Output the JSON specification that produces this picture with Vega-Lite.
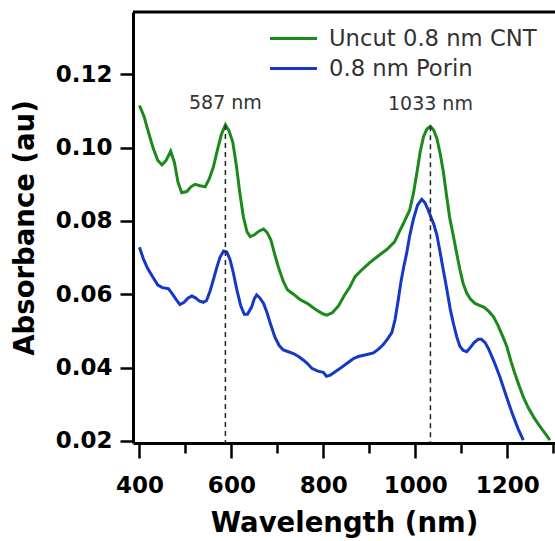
{
  "$schema": "https://vega.github.io/schema/vega-lite/v6.json",
  "autosize": "none",
  "width": 422,
  "height": 431,
  "padding": {"left": 133, "top": 12, "right": 0, "bottom": 98},
  "background": "white",
  "config": {
    "view": {"stroke": null},
    "font": "DejaVu Sans"
  },
  "datasets": {
    "spectra": [
      {"nm": 400, "abs": 0.1115, "sample": "Uncut 0.8 nm CNT"},
      {"nm": 410, "abs": 0.1085, "sample": "Uncut 0.8 nm CNT"},
      {"nm": 420, "abs": 0.1040, "sample": "Uncut 0.8 nm CNT"},
      {"nm": 430, "abs": 0.0998, "sample": "Uncut 0.8 nm CNT"},
      {"nm": 440, "abs": 0.0965, "sample": "Uncut 0.8 nm CNT"},
      {"nm": 449, "abs": 0.0953, "sample": "Uncut 0.8 nm CNT"},
      {"nm": 458, "abs": 0.0965, "sample": "Uncut 0.8 nm CNT"},
      {"nm": 468, "abs": 0.0990, "sample": "Uncut 0.8 nm CNT"},
      {"nm": 476, "abs": 0.0960, "sample": "Uncut 0.8 nm CNT"},
      {"nm": 484, "abs": 0.0905, "sample": "Uncut 0.8 nm CNT"},
      {"nm": 492, "abs": 0.0877, "sample": "Uncut 0.8 nm CNT"},
      {"nm": 503, "abs": 0.0880, "sample": "Uncut 0.8 nm CNT"},
      {"nm": 512, "abs": 0.0893, "sample": "Uncut 0.8 nm CNT"},
      {"nm": 521, "abs": 0.0900, "sample": "Uncut 0.8 nm CNT"},
      {"nm": 532, "abs": 0.0896, "sample": "Uncut 0.8 nm CNT"},
      {"nm": 543, "abs": 0.0893, "sample": "Uncut 0.8 nm CNT"},
      {"nm": 552, "abs": 0.0915, "sample": "Uncut 0.8 nm CNT"},
      {"nm": 561, "abs": 0.0948, "sample": "Uncut 0.8 nm CNT"},
      {"nm": 570, "abs": 0.0995, "sample": "Uncut 0.8 nm CNT"},
      {"nm": 578, "abs": 0.1035, "sample": "Uncut 0.8 nm CNT"},
      {"nm": 587, "abs": 0.1062, "sample": "Uncut 0.8 nm CNT"},
      {"nm": 595, "abs": 0.1045, "sample": "Uncut 0.8 nm CNT"},
      {"nm": 603, "abs": 0.1015, "sample": "Uncut 0.8 nm CNT"},
      {"nm": 611, "abs": 0.0950, "sample": "Uncut 0.8 nm CNT"},
      {"nm": 618, "abs": 0.0880, "sample": "Uncut 0.8 nm CNT"},
      {"nm": 626, "abs": 0.0812, "sample": "Uncut 0.8 nm CNT"},
      {"nm": 634, "abs": 0.0770, "sample": "Uncut 0.8 nm CNT"},
      {"nm": 641, "abs": 0.0757, "sample": "Uncut 0.8 nm CNT"},
      {"nm": 650, "abs": 0.0762, "sample": "Uncut 0.8 nm CNT"},
      {"nm": 660, "abs": 0.0772, "sample": "Uncut 0.8 nm CNT"},
      {"nm": 670, "abs": 0.0778, "sample": "Uncut 0.8 nm CNT"},
      {"nm": 678, "abs": 0.0768, "sample": "Uncut 0.8 nm CNT"},
      {"nm": 686, "abs": 0.0748, "sample": "Uncut 0.8 nm CNT"},
      {"nm": 694, "abs": 0.0710, "sample": "Uncut 0.8 nm CNT"},
      {"nm": 702, "abs": 0.0675, "sample": "Uncut 0.8 nm CNT"},
      {"nm": 713, "abs": 0.0635, "sample": "Uncut 0.8 nm CNT"},
      {"nm": 722, "abs": 0.0612, "sample": "Uncut 0.8 nm CNT"},
      {"nm": 735, "abs": 0.0600, "sample": "Uncut 0.8 nm CNT"},
      {"nm": 750, "abs": 0.0585, "sample": "Uncut 0.8 nm CNT"},
      {"nm": 765, "abs": 0.0575, "sample": "Uncut 0.8 nm CNT"},
      {"nm": 778, "abs": 0.0563, "sample": "Uncut 0.8 nm CNT"},
      {"nm": 790, "abs": 0.0553, "sample": "Uncut 0.8 nm CNT"},
      {"nm": 800, "abs": 0.0546, "sample": "Uncut 0.8 nm CNT"},
      {"nm": 808, "abs": 0.0543, "sample": "Uncut 0.8 nm CNT"},
      {"nm": 820, "abs": 0.0550, "sample": "Uncut 0.8 nm CNT"},
      {"nm": 833, "abs": 0.0568, "sample": "Uncut 0.8 nm CNT"},
      {"nm": 845, "abs": 0.0595, "sample": "Uncut 0.8 nm CNT"},
      {"nm": 858, "abs": 0.0620, "sample": "Uncut 0.8 nm CNT"},
      {"nm": 869, "abs": 0.0648, "sample": "Uncut 0.8 nm CNT"},
      {"nm": 885, "abs": 0.0668, "sample": "Uncut 0.8 nm CNT"},
      {"nm": 901, "abs": 0.0686, "sample": "Uncut 0.8 nm CNT"},
      {"nm": 920, "abs": 0.0705, "sample": "Uncut 0.8 nm CNT"},
      {"nm": 938, "abs": 0.0722, "sample": "Uncut 0.8 nm CNT"},
      {"nm": 955, "abs": 0.0743, "sample": "Uncut 0.8 nm CNT"},
      {"nm": 966, "abs": 0.0772, "sample": "Uncut 0.8 nm CNT"},
      {"nm": 977, "abs": 0.0800, "sample": "Uncut 0.8 nm CNT"},
      {"nm": 988, "abs": 0.0830, "sample": "Uncut 0.8 nm CNT"},
      {"nm": 996, "abs": 0.0875, "sample": "Uncut 0.8 nm CNT"},
      {"nm": 1004, "abs": 0.0935, "sample": "Uncut 0.8 nm CNT"},
      {"nm": 1011, "abs": 0.0990, "sample": "Uncut 0.8 nm CNT"},
      {"nm": 1018, "abs": 0.1030, "sample": "Uncut 0.8 nm CNT"},
      {"nm": 1025, "abs": 0.1050, "sample": "Uncut 0.8 nm CNT"},
      {"nm": 1033, "abs": 0.1058, "sample": "Uncut 0.8 nm CNT"},
      {"nm": 1040, "abs": 0.1048, "sample": "Uncut 0.8 nm CNT"},
      {"nm": 1047, "abs": 0.1025, "sample": "Uncut 0.8 nm CNT"},
      {"nm": 1054, "abs": 0.0985, "sample": "Uncut 0.8 nm CNT"},
      {"nm": 1061, "abs": 0.0935, "sample": "Uncut 0.8 nm CNT"},
      {"nm": 1068, "abs": 0.0870, "sample": "Uncut 0.8 nm CNT"},
      {"nm": 1075, "abs": 0.0808, "sample": "Uncut 0.8 nm CNT"},
      {"nm": 1083, "abs": 0.0758, "sample": "Uncut 0.8 nm CNT"},
      {"nm": 1090, "abs": 0.0712, "sample": "Uncut 0.8 nm CNT"},
      {"nm": 1097, "abs": 0.0668, "sample": "Uncut 0.8 nm CNT"},
      {"nm": 1104, "abs": 0.0630, "sample": "Uncut 0.8 nm CNT"},
      {"nm": 1112, "abs": 0.0603, "sample": "Uncut 0.8 nm CNT"},
      {"nm": 1120, "abs": 0.0587, "sample": "Uncut 0.8 nm CNT"},
      {"nm": 1130, "abs": 0.0575, "sample": "Uncut 0.8 nm CNT"},
      {"nm": 1141, "abs": 0.0569, "sample": "Uncut 0.8 nm CNT"},
      {"nm": 1150, "abs": 0.0564, "sample": "Uncut 0.8 nm CNT"},
      {"nm": 1160, "abs": 0.0553, "sample": "Uncut 0.8 nm CNT"},
      {"nm": 1170, "abs": 0.0539, "sample": "Uncut 0.8 nm CNT"},
      {"nm": 1180, "abs": 0.0515, "sample": "Uncut 0.8 nm CNT"},
      {"nm": 1191, "abs": 0.0483, "sample": "Uncut 0.8 nm CNT"},
      {"nm": 1199, "abs": 0.0458, "sample": "Uncut 0.8 nm CNT"},
      {"nm": 1208, "abs": 0.0418, "sample": "Uncut 0.8 nm CNT"},
      {"nm": 1217, "abs": 0.0382, "sample": "Uncut 0.8 nm CNT"},
      {"nm": 1226, "abs": 0.0350, "sample": "Uncut 0.8 nm CNT"},
      {"nm": 1235, "abs": 0.0320, "sample": "Uncut 0.8 nm CNT"},
      {"nm": 1246, "abs": 0.0290, "sample": "Uncut 0.8 nm CNT"},
      {"nm": 1257, "abs": 0.0266, "sample": "Uncut 0.8 nm CNT"},
      {"nm": 1268, "abs": 0.0245, "sample": "Uncut 0.8 nm CNT"},
      {"nm": 1278, "abs": 0.0228, "sample": "Uncut 0.8 nm CNT"},
      {"nm": 1286, "abs": 0.0214, "sample": "Uncut 0.8 nm CNT"},
      {"nm": 1293, "abs": 0.0202, "sample": "Uncut 0.8 nm CNT"},
      {"nm": 400, "abs": 0.0728, "sample": "0.8 nm Porin"},
      {"nm": 409, "abs": 0.0695, "sample": "0.8 nm Porin"},
      {"nm": 418, "abs": 0.0670, "sample": "0.8 nm Porin"},
      {"nm": 430, "abs": 0.0645, "sample": "0.8 nm Porin"},
      {"nm": 440, "abs": 0.0625, "sample": "0.8 nm Porin"},
      {"nm": 450, "abs": 0.0618, "sample": "0.8 nm Porin"},
      {"nm": 463, "abs": 0.0615, "sample": "0.8 nm Porin"},
      {"nm": 472, "abs": 0.0600, "sample": "0.8 nm Porin"},
      {"nm": 480, "abs": 0.0585, "sample": "0.8 nm Porin"},
      {"nm": 488, "abs": 0.0572, "sample": "0.8 nm Porin"},
      {"nm": 497, "abs": 0.0578, "sample": "0.8 nm Porin"},
      {"nm": 506, "abs": 0.0590, "sample": "0.8 nm Porin"},
      {"nm": 514, "abs": 0.0595, "sample": "0.8 nm Porin"},
      {"nm": 522, "abs": 0.0590, "sample": "0.8 nm Porin"},
      {"nm": 530, "abs": 0.0582, "sample": "0.8 nm Porin"},
      {"nm": 539, "abs": 0.0578, "sample": "0.8 nm Porin"},
      {"nm": 546, "abs": 0.0583, "sample": "0.8 nm Porin"},
      {"nm": 554, "abs": 0.0610, "sample": "0.8 nm Porin"},
      {"nm": 561, "abs": 0.0640, "sample": "0.8 nm Porin"},
      {"nm": 568, "abs": 0.0672, "sample": "0.8 nm Porin"},
      {"nm": 575, "abs": 0.0700, "sample": "0.8 nm Porin"},
      {"nm": 583, "abs": 0.0718, "sample": "0.8 nm Porin"},
      {"nm": 590, "abs": 0.0715, "sample": "0.8 nm Porin"},
      {"nm": 597, "abs": 0.0695, "sample": "0.8 nm Porin"},
      {"nm": 604, "abs": 0.0660, "sample": "0.8 nm Porin"},
      {"nm": 612, "abs": 0.0612, "sample": "0.8 nm Porin"},
      {"nm": 620, "abs": 0.0570, "sample": "0.8 nm Porin"},
      {"nm": 628, "abs": 0.0545, "sample": "0.8 nm Porin"},
      {"nm": 635, "abs": 0.0545, "sample": "0.8 nm Porin"},
      {"nm": 644, "abs": 0.0565, "sample": "0.8 nm Porin"},
      {"nm": 650, "abs": 0.0588, "sample": "0.8 nm Porin"},
      {"nm": 655, "abs": 0.0598, "sample": "0.8 nm Porin"},
      {"nm": 662, "abs": 0.0590, "sample": "0.8 nm Porin"},
      {"nm": 670, "abs": 0.0575, "sample": "0.8 nm Porin"},
      {"nm": 678, "abs": 0.0548, "sample": "0.8 nm Porin"},
      {"nm": 686, "abs": 0.0515, "sample": "0.8 nm Porin"},
      {"nm": 695, "abs": 0.0482, "sample": "0.8 nm Porin"},
      {"nm": 704, "abs": 0.0460, "sample": "0.8 nm Porin"},
      {"nm": 713, "abs": 0.0448, "sample": "0.8 nm Porin"},
      {"nm": 724, "abs": 0.0443, "sample": "0.8 nm Porin"},
      {"nm": 735, "abs": 0.0438, "sample": "0.8 nm Porin"},
      {"nm": 746, "abs": 0.0430, "sample": "0.8 nm Porin"},
      {"nm": 757, "abs": 0.0420, "sample": "0.8 nm Porin"},
      {"nm": 766, "abs": 0.0410, "sample": "0.8 nm Porin"},
      {"nm": 775, "abs": 0.0398, "sample": "0.8 nm Porin"},
      {"nm": 788, "abs": 0.0390, "sample": "0.8 nm Porin"},
      {"nm": 800, "abs": 0.0387, "sample": "0.8 nm Porin"},
      {"nm": 807, "abs": 0.0376, "sample": "0.8 nm Porin"},
      {"nm": 815, "abs": 0.0379, "sample": "0.8 nm Porin"},
      {"nm": 822, "abs": 0.0385, "sample": "0.8 nm Porin"},
      {"nm": 836, "abs": 0.0397, "sample": "0.8 nm Porin"},
      {"nm": 851, "abs": 0.0411, "sample": "0.8 nm Porin"},
      {"nm": 865, "abs": 0.0424, "sample": "0.8 nm Porin"},
      {"nm": 876, "abs": 0.0430, "sample": "0.8 nm Porin"},
      {"nm": 893, "abs": 0.0435, "sample": "0.8 nm Porin"},
      {"nm": 909, "abs": 0.0440, "sample": "0.8 nm Porin"},
      {"nm": 920, "abs": 0.0450, "sample": "0.8 nm Porin"},
      {"nm": 930, "abs": 0.0462, "sample": "0.8 nm Porin"},
      {"nm": 940, "abs": 0.0478, "sample": "0.8 nm Porin"},
      {"nm": 949, "abs": 0.0495, "sample": "0.8 nm Porin"},
      {"nm": 956, "abs": 0.0530, "sample": "0.8 nm Porin"},
      {"nm": 963, "abs": 0.0584, "sample": "0.8 nm Porin"},
      {"nm": 969, "abs": 0.0635, "sample": "0.8 nm Porin"},
      {"nm": 975, "abs": 0.0675, "sample": "0.8 nm Porin"},
      {"nm": 981, "abs": 0.0710, "sample": "0.8 nm Porin"},
      {"nm": 988, "abs": 0.0760, "sample": "0.8 nm Porin"},
      {"nm": 996, "abs": 0.0805, "sample": "0.8 nm Porin"},
      {"nm": 1005, "abs": 0.0843, "sample": "0.8 nm Porin"},
      {"nm": 1014, "abs": 0.0859, "sample": "0.8 nm Porin"},
      {"nm": 1021, "abs": 0.0850, "sample": "0.8 nm Porin"},
      {"nm": 1028, "abs": 0.0830, "sample": "0.8 nm Porin"},
      {"nm": 1035, "abs": 0.0808, "sample": "0.8 nm Porin"},
      {"nm": 1040, "abs": 0.0792, "sample": "0.8 nm Porin"},
      {"nm": 1047, "abs": 0.0762, "sample": "0.8 nm Porin"},
      {"nm": 1054, "abs": 0.0715, "sample": "0.8 nm Porin"},
      {"nm": 1061, "abs": 0.0666, "sample": "0.8 nm Porin"},
      {"nm": 1068, "abs": 0.0618, "sample": "0.8 nm Porin"},
      {"nm": 1076, "abs": 0.0560, "sample": "0.8 nm Porin"},
      {"nm": 1083, "abs": 0.0520, "sample": "0.8 nm Porin"},
      {"nm": 1090, "abs": 0.0485, "sample": "0.8 nm Porin"},
      {"nm": 1097, "abs": 0.0458, "sample": "0.8 nm Porin"},
      {"nm": 1104, "abs": 0.0447, "sample": "0.8 nm Porin"},
      {"nm": 1112, "abs": 0.0443, "sample": "0.8 nm Porin"},
      {"nm": 1120, "abs": 0.0455, "sample": "0.8 nm Porin"},
      {"nm": 1128, "abs": 0.0468, "sample": "0.8 nm Porin"},
      {"nm": 1137, "abs": 0.0477, "sample": "0.8 nm Porin"},
      {"nm": 1144, "abs": 0.0477, "sample": "0.8 nm Porin"},
      {"nm": 1152, "abs": 0.0468, "sample": "0.8 nm Porin"},
      {"nm": 1159, "abs": 0.0452, "sample": "0.8 nm Porin"},
      {"nm": 1170, "abs": 0.0420, "sample": "0.8 nm Porin"},
      {"nm": 1177, "abs": 0.0398, "sample": "0.8 nm Porin"},
      {"nm": 1184, "abs": 0.0375, "sample": "0.8 nm Porin"},
      {"nm": 1195, "abs": 0.0333, "sample": "0.8 nm Porin"},
      {"nm": 1204, "abs": 0.0300, "sample": "0.8 nm Porin"},
      {"nm": 1213, "abs": 0.0268, "sample": "0.8 nm Porin"},
      {"nm": 1224, "abs": 0.0232, "sample": "0.8 nm Porin"},
      {"nm": 1235, "abs": 0.0202, "sample": "0.8 nm Porin"}
    ],
    "peaks": [
      {"nm": 587, "peak": 0.1062, "label": "587 nm"},
      {"nm": 1033, "peak": 0.1058, "label": "1033 nm"}
    ]
  },
  "layer": [
    {
      "data": {"name": "spectra"},
      "mark": {"type": "line", "strokeWidth": 3, "clip": true},
      "encoding": {
        "x": {
          "field": "nm", "type": "quantitative",
          "scale": {"domain": [386, 1304], "nice": false, "zero": false},
          "axis": {
            "orient": "bottom",
            "title": "Wavelength (nm)",
            "values": [400, 450, 500, 550, 600, 650, 700, 750, 800, 850, 900, 950, 1000, 1050, 1100, 1150, 1200, 1250, 1300],
            "labelExpr": "datum.value % 200 == 0 ? format(datum.value, 'd') : ''",
            "grid": false,
            "domainColor": "black", "domainWidth": 3,
            "tickColor": "black", "tickWidth": 2.5,
            "tickSize": {"condition": {"test": "datum.value % 200 == 0", "value": 15}, "value": 10},
            "labelFont": "DejaVu Sans", "labelFontWeight": "bold", "labelFontSize": 23, "labelColor": "black",
            "labelPadding": 16, "labelOverlap": false, "labelFlush": false,
            "titleFont": "DejaVu Sans", "titleFontWeight": "bold", "titleFontSize": 27.5, "titleColor": "black",
            "titlePadding": 12
          }
        },
        "y": {
          "field": "abs", "type": "quantitative",
          "scale": {"domain": [0.0194, 0.137], "nice": false, "zero": false},
          "axis": {
            "title": "Absorbance (au)",
            "values": [0.02, 0.04, 0.06, 0.08, 0.10, 0.12],
            "format": ".2f",
            "grid": false,
            "domainColor": "black", "domainWidth": 3,
            "tickColor": "black", "tickWidth": 2.5, "tickSize": 13,
            "labelFont": "DejaVu Sans", "labelFontWeight": "bold", "labelFontSize": 23, "labelColor": "black",
            "labelPadding": 8,
            "titleFont": "DejaVu Sans", "titleFontWeight": "bold", "titleFontSize": 27.5, "titleColor": "black",
            "titlePadding": 16
          }
        },
        "color": {
          "field": "sample", "type": "nominal",
          "scale": {"domain": ["Uncut 0.8 nm CNT", "0.8 nm Porin"], "range": ["#1b8a1b", "#1538c8"]},
          "legend": {
            "orient": "none", "legendX": 147, "legendY": 13,
            "title": null,
            "symbolType": "M-2,0H2", "symbolSize": 552, "symbolStrokeWidth": 3,
            "labelFont": "DejaVu Sans", "labelFontSize": 22.7, "labelColor": "#333", "labelLimit": 0,
            "labelOffset": 22, "padding": 0, "rowPadding": 4
          }
        }
      }
    },
    {
      "data": {"name": "peaks"},
      "mark": {"type": "rule", "strokeDash": [5, 4], "strokeWidth": 1.5, "color": "#222"},
      "encoding": {
        "x": {"field": "nm", "type": "quantitative"},
        "y": {"field": "peak", "type": "quantitative"},
        "y2": {"datum": 0.0194}
      }
    },
    {
      "data": {"name": "peaks"},
      "mark": {"type": "text", "font": "DejaVu Sans", "fontSize": 19, "color": "#333", "baseline": "middle", "align": "center", "dy": -22},
      "encoding": {
        "x": {"field": "nm", "type": "quantitative"},
        "y": {"field": "peak", "type": "quantitative"},
        "text": {"field": "label"}
      }
    },
    {
      "data": {"values": [{"frame": "top"}]},
      "mark": {"type": "rule", "color": "black", "strokeWidth": 3},
      "encoding": {
        "y": {"datum": 0.137}
      }
    }
  ]
}
